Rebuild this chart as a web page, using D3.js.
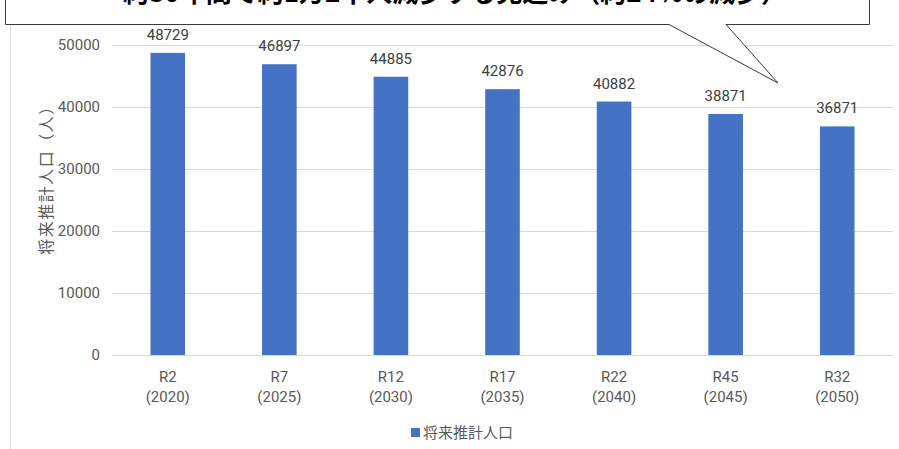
<!DOCTYPE html>
<html lang="ja">
<head>
<meta charset="utf-8">
<script src="https://cdn.jsdelivr.net/npm/d3@7"></script>
<style>
  html, body { margin: 0; padding: 0; background: #fff; }
  svg { display: block; font-family: Roboto, "Noto Sans CJK JP", sans-serif; }
</style>
</head>
<body>
<svg id="chart" width="899" height="449"></svg>
<script>
const eraLabels = ["R2", "R7", "R12", "R17", "R22", "R45", "R32"];
const yearLabels = ["(2020)", "(2025)", "(2030)", "(2035)", "(2040)", "(2045)", "(2050)"];
const population = [48729, 46897, 44885, 42876, 40882, 38871, 36871];
const yTicks = [0, 10000, 20000, 30000, 40000, 50000];
const seriesName = "将来推計人口";
const axisTitle = "将来推計人口（人）";
const calloutText = "約30年間で約1万2千人減少する見込み（約24％の減少）";

const width = 899;
const height = 449;
const margin = { top: 45, right: 6, bottom: 94, left: 112 };

const svg = d3.select("#chart");
const textColor = "#595959";

// chart border (left edge only visible)
svg.append("line")
  .attr("x1", 10.5).attr("x2", 10.5)
  .attr("y1", 0).attr("y2", height)
  .attr("stroke", "#d9d9d9");

const x = d3.scaleBand()
  .domain(eraLabels)
  .range([margin.left, width - margin.right])
  .paddingInner(0.69)
  .paddingOuter(0.345);

const y = d3.scaleLinear()
  .domain([0, 50000])
  .range([height - margin.bottom, margin.top]);

// gridlines
svg.append("g")
  .selectAll("line")
  .data(yTicks)
  .join("line")
  .attr("x1", margin.left)
  .attr("x2", width - margin.right)
  .attr("y1", (d) => Math.round(y(d)) + 0.5)
  .attr("y2", (d) => Math.round(y(d)) + 0.5)
  .attr("stroke", "#d9d9d9")
  .attr("stroke-width", 1);

// y tick labels
svg.append("g")
  .selectAll("text")
  .data(yTicks)
  .join("text")
  .attr("x", 100)
  .attr("y", (d) => y(d))
  .attr("dy", "0.35em")
  .attr("text-anchor", "end")
  .attr("font-size", 15)
  .attr("fill", textColor)
  .text((d) => d);

// y axis title
svg.append("text")
  .attr("transform", "translate(46, 176) rotate(-90)")
  .attr("text-anchor", "middle")
  .attr("dy", "0.35em")
  .attr("font-family", "'Noto Sans CJK JP', sans-serif")
  .attr("font-size", 16)
  .attr("letter-spacing", 1.5)
  .attr("fill", textColor)
  .text(axisTitle);

// bars
svg.append("g")
  .selectAll("rect")
  .data(population)
  .join("rect")
  .attr("x", (d, i) => x(eraLabels[i]))
  .attr("y", (d) => y(d))
  .attr("width", x.bandwidth())
  .attr("height", (d) => y(0) - y(d))
  .attr("fill", "#4472c4");

// value labels
svg.append("g")
  .selectAll("text")
  .data(population)
  .join("text")
  .attr("x", (d, i) => x(eraLabels[i]) + x.bandwidth() / 2)
  .attr("y", (d) => y(d) - 13)
  .attr("text-anchor", "middle")
  .attr("font-size", 15)
  .attr("fill", "#404040")
  .text((d) => d);

// category labels (two lines)
const cat = svg.append("g")
  .selectAll("text")
  .data(eraLabels)
  .join("text")
  .attr("x", (d) => x(d) + x.bandwidth() / 2)
  .attr("text-anchor", "middle")
  .attr("font-size", 15)
  .attr("fill", textColor);

cat.append("tspan")
  .attr("x", (d) => x(d) + x.bandwidth() / 2)
  .attr("y", 382)
  .text((d) => d);

cat.append("tspan")
  .attr("x", (d) => x(d) + x.bandwidth() / 2)
  .attr("y", 402)
  .text((d, i) => yearLabels[i]);

// legend
const legend = svg.append("g").attr("transform", "translate(411, 433)");
legend.append("rect")
  .attr("x", 0).attr("y", -5)
  .attr("width", 9).attr("height", 9)
  .attr("fill", "#4472c4");
legend.append("text")
  .attr("x", 12)
  .attr("y", 0)
  .attr("dy", "0.35em")
  .attr("font-family", "'Noto Sans CJK JP', sans-serif")
  .attr("font-size", 15)
  .attr("fill", textColor)
  .text(seriesName);

// callout box with pointer
const boxLeft = 5.5, boxRight = 869.5, boxBottom = 24.5;
const calloutPath = d3.path();
calloutPath.moveTo(boxLeft, -2);
calloutPath.lineTo(boxLeft, boxBottom);
calloutPath.lineTo(669, boxBottom);
calloutPath.lineTo(778, 83);
calloutPath.lineTo(726, boxBottom);
calloutPath.lineTo(boxRight, boxBottom);
calloutPath.lineTo(boxRight, -2);
calloutPath.closePath();

svg.append("path")
  .attr("d", calloutPath.toString())
  .attr("fill", "#fff")
  .attr("stroke", "#3a3a3a")
  .attr("stroke-width", 1);

svg.append("text")
  .attr("x", 455)
  .attr("y", 2)
  .attr("text-anchor", "middle")
  .attr("font-family", "'Noto Sans CJK JP', sans-serif")
  .attr("font-weight", "bold")
  .attr("font-size", 26)
  .attr("fill", "#000")
  .text(calloutText);
</script>
</body>
</html>
